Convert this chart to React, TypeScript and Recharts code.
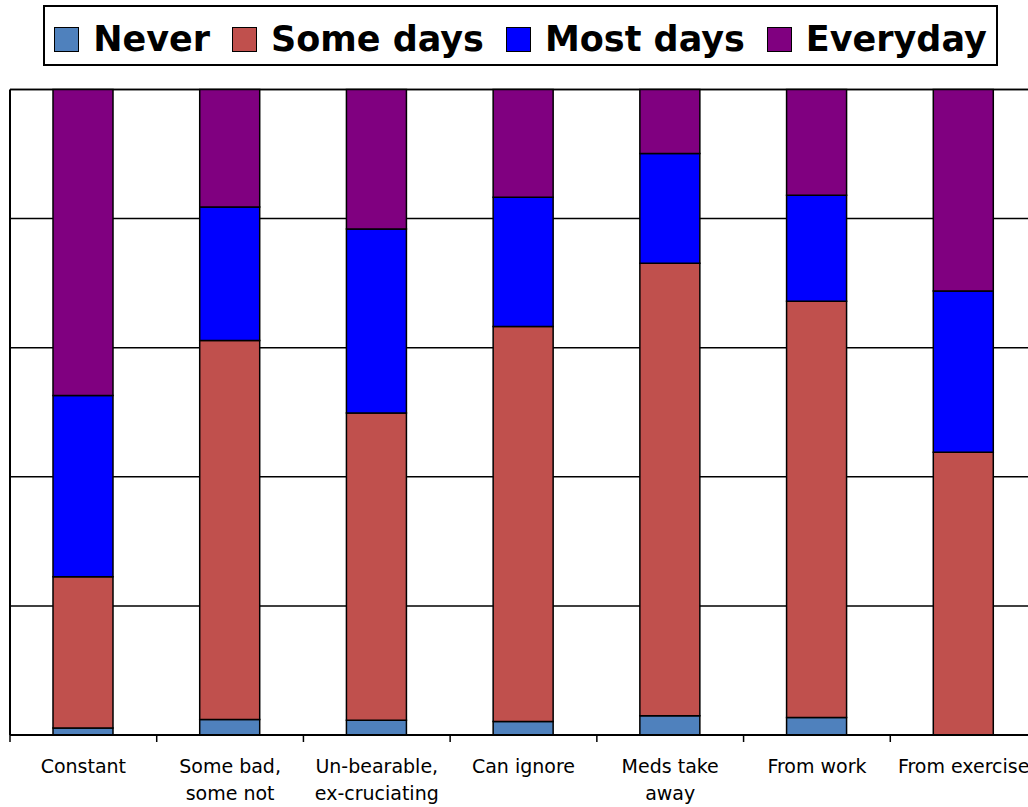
import React from "react";
import { BarChart, Bar, XAxis, YAxis, CartesianGrid } from "recharts";

const categories = ["Constant", "Some bad, some not", "Un-bearable, ex-cruciating", "Can ignore", "Meds take away", "From work", "From exercise"];
const labelLines = [["Constant"], ["Some bad,", "some not"], ["Un-bearable,", "ex-cruciating"], ["Can ignore"], ["Meds take", "away"], ["From work"], ["From exercise"]];
const never = [1.1, 2.4, 2.3, 2.1, 3.0, 2.7, 0];
const someDays = [23.4, 58.7, 47.6, 61.2, 70.1, 64.5, 43.8];
const mostDays = [28.1, 20.7, 28.5, 20.0, 17.0, 16.4, 25.0];
const everyday = [47.4, 18.2, 21.6, 16.7, 9.9, 16.4, 31.2];
const yTicks = [0, 20, 40, 60, 80, 100];

const seriesNames = ["Never", "Some days", "Most days", "Everyday"];
const seriesKeys = ["never", "someDays", "mostDays", "everyday"];
const seriesColors = ["#4F81BD", "#C0504D", "#0000FF", "#800080"];

const data = categories.map((c, i) => ({
  cat: c,
  never: never[i],
  someDays: someDays[i],
  mostDays: mostDays[i],
  everyday: everyday[i],
}));

function EmptyTick() {
  return <g />;
}

function CatTick(props: any) {
  const { x, y, payload, width } = props;
  const idx = categories.indexOf(payload.value);
  const lines = idx >= 0 ? labelLines[idx] : [String(payload.value)];
  const half = payload && typeof payload.offset === "number" && payload.offset > 0 ? payload.offset : width / categories.length / 2;
  const bx = x - half;
  return (
    <g>
      <line x1={bx} y1={y} x2={bx} y2={y + 7} stroke="#000" strokeWidth={1.5} />
      {idx === categories.length - 1 ? (
        <line x1={x + half} y1={y} x2={x + half} y2={y + 7} stroke="#000" strokeWidth={1.5} />
      ) : null}
      <text x={x} y={y} textAnchor="middle" fontSize={19} fontFamily="DejaVu Sans" fill="#000">
        {lines.map((l, i) => (
          <tspan key={i} x={x} dy={i === 0 ? 38 : 27}>
            {l}
          </tspan>
        ))}
      </text>
    </g>
  );
}

export default function App() {
  return (
    <div style={{ position: "fixed", top: 0, left: 0, width: 1028, height: 807, overflow: "hidden", background: "#fff" }}>
      <div
        style={{
          position: "absolute",
          left: 43,
          top: 5,
          width: 955,
          height: 61,
          boxSizing: "border-box",
          border: "2px solid #000",
          display: "flex",
          alignItems: "center",
          justifyContent: "center",
          paddingTop: 7,
          background: "#fff",
          zIndex: 2,
        }}
      >
        {seriesNames.map((n, i) => (
          <div key={n} style={{ display: "flex", alignItems: "center", marginLeft: i === 0 ? 0 : 22 }}>
            <div
              style={{
                width: 25,
                height: 25,
                boxSizing: "border-box",
                border: "1.5px solid #000",
                background: seriesColors[i],
                marginRight: 14,
              }}
            />
            <span style={{ fontFamily: "DejaVu Sans", fontWeight: "bold", fontSize: 35, lineHeight: 1, color: "#000" }}>{n}</span>
          </div>
        ))}
      </div>
      <div style={{ position: "absolute", left: 0, top: 0 }}>
        <BarChart width={1037} height={807} data={data} margin={{ top: 89.5, right: 0, left: 9, bottom: 12 }} barSize={60}>
          <CartesianGrid vertical={false} stroke="#000" strokeWidth={1.5} />
          <XAxis
            dataKey="cat"
            height={60}
            axisLine={{ stroke: "#000", strokeWidth: 2 }}
            tickLine={false}
            tickSize={0}
            tickMargin={0}
            interval={0}
            tick={<CatTick />}
          />
          <YAxis
            width={1}
            domain={[0, 100]}
            ticks={yTicks}
            axisLine={{ stroke: "#000", strokeWidth: 2 }}
            tickLine={false}
            tick={<EmptyTick />}
          />
          {seriesKeys.map((k, i) => (
            <Bar
              key={k}
              dataKey={k}
              name={seriesNames[i]}
              stackId="a"
              fill={seriesColors[i]}
              stroke="#000"
              strokeWidth={1.5}
              isAnimationActive={false}
            />
          ))}
        </BarChart>
      </div>
    </div>
  );
}
